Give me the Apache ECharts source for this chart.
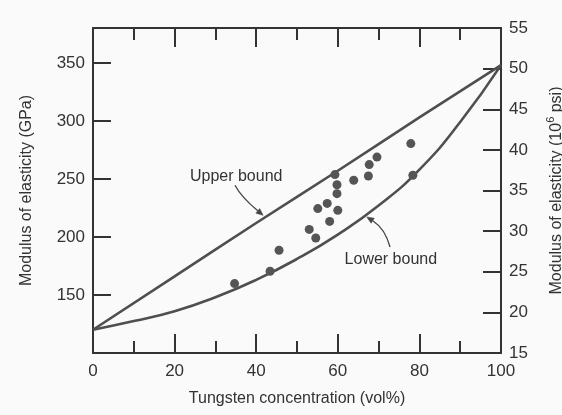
<!DOCTYPE html>
<html>
<head>
<meta charset="utf-8">
<script src="https://cdn.jsdelivr.net/npm/echarts@6/dist/echarts.min.js"></script>
<style>
html,body{margin:0;padding:0;background:#fafafa;}
#main{width:562px;height:415px;}
</style>
</head>
<body>
<div id="main"></div>
<script>
// Volume fraction of tungsten (vol%) and modulus (GPa)
var upperX = [0, 20, 40, 60, 80, 100];
var upperY = [120, 166, 212, 257, 303, 348];
var lowerX = [0, 10, 20, 30, 40, 50, 60, 70, 80, 90, 100];
var lowerY = [120, 127.5, 136, 148, 163, 181, 202, 227, 258, 299, 348];
var dotX = [34.7, 43.4, 45.6, 53.0, 54.6, 55.1, 57.4, 58.0, 59.3, 59.8, 59.8, 60.0, 63.9, 67.5, 67.7, 69.6, 77.9, 78.4];
var dotY = [159.8, 170.4, 188.5, 206.5, 199.1, 224.4, 228.9, 213.4, 253.7, 245.0, 237.3, 222.9, 248.8, 252.5, 262.3, 268.8, 280.4, 253.1];
var xTicks = [0, 20, 40, 60, 80, 100];
var gpaTicks = [150, 200, 250, 300, 350];
var psiTicks = [15, 20, 25, 30, 35, 40, 45, 50, 55];

// Annotations anchored in data coordinates [vol%, GPa]
var annoLabels = ['Upper bound', 'Lower bound'];
var annoLabelAt = [[35.1, 252.2], [73.0, 180.3]];
var annoArrows = [
  [[34.8, 244.5], [36.3, 234.5], [41.7, 218.6]],
  [[72.8, 191.3], [71.6, 207.2], [67.1, 217.2]]
];

function pairs(xs, ys) { return xs.map(function (x, i) { return [x, ys[i]]; }); }

var FONT = "'Liberation Sans', Arial, Helvetica, sans-serif";
var TXT = '#333';
var LINE = '#333';
var CURVE = '#4f4f4f';

var chart = echarts.init(document.getElementById('main'), null, {renderer: 'canvas'});

function renderAnno(params, api) {
  var i = params.dataIndex;
  var lp = api.coord(annoLabelAt[i]);
  var pts = annoArrows[i];
  var a = api.coord(pts[0]), c = api.coord(pts[1]), b = api.coord(pts[2]);
  var dx = b[0] - c[0], dy = b[1] - c[1];
  var len = Math.sqrt(dx * dx + dy * dy);
  dx /= len; dy /= len;
  var hl = 7, hw = 3;
  var bx = b[0] - dx * hl, by = b[1] - dy * hl;
  var nx = -dy, ny = dx;
  return {
    type: 'group',
    children: [{
      type: 'text', x: lp[0], y: lp[1],
      style: {text: annoLabels[i], fill: TXT, fontSize: 16, fontFamily: FONT, align: 'center', verticalAlign: 'middle'}
    }, {
      type: 'bezierCurve',
      shape: {x1: a[0], y1: a[1], x2: bx, y2: by, cpx1: c[0], cpy1: c[1]},
      style: {stroke: '#444', lineWidth: 1.3, fill: null}
    }, {
      type: 'polygon',
      shape: {points: [[bx + nx * hw, by + ny * hw], [b[0], b[1]], [bx - nx * hw, by - ny * hw]]},
      style: {fill: '#444', stroke: '#444', lineWidth: 0.5}
    }]
  };
}

var option = {
  backgroundColor: '#fafafa',
  animation: false,
  grid: {left: 93, right: 61, top: 28, bottom: 62, containLabel: false, outerBoundsMode: 'none'},
  xAxis: [{
    type: 'value', position: 'bottom', min: 0, max: 100, interval: 20,
    axisLine: {show: true, onZero: false, lineStyle: {color: LINE, width: 2}},
    axisTick: {show: true, inside: true, length: 19, lineStyle: {color: LINE, width: 2}},
    minorTick: {show: true, splitNumber: 2, length: 12, lineStyle: {color: LINE, width: 2}},
    splitLine: {show: false},
    axisLabel: {margin: 10, color: TXT, fontSize: 17, fontFamily: FONT,
      formatter: function (v) { return xTicks.indexOf(v) >= 0 ? String(v) : ''; }},
    name: 'Tungsten concentration (vol%)', nameLocation: 'middle', nameGap: 38,
    nameTextStyle: {color: TXT, fontSize: 16, fontFamily: FONT}
  }, {
    type: 'value', position: 'top', min: 0, max: 100, interval: 20,
    axisLine: {show: true, onZero: false, lineStyle: {color: LINE, width: 2}},
    axisTick: {show: true, inside: true, length: 19, lineStyle: {color: LINE, width: 2}},
    minorTick: {show: true, splitNumber: 2, length: 12, lineStyle: {color: LINE, width: 2}},
    splitLine: {show: false},
    axisLabel: {show: true, color: 'rgba(0,0,0,0)', fontSize: 10}
  }],
  yAxis: [{
    type: 'value', position: 'left', min: 100, max: 380,
    axisLine: {show: true, onZero: false, lineStyle: {color: LINE, width: 2}},
    axisTick: {show: true, inside: true, length: 18, customValues: gpaTicks, lineStyle: {color: LINE, width: 2}},
    minorTick: {show: false},
    splitLine: {show: false},
    axisLabel: {margin: 8, color: TXT, fontSize: 17, fontFamily: FONT, customValues: gpaTicks},
    name: 'Modulus of elasticity (GPa)', nameLocation: 'middle', nameGap: 58, nameRotate: 90,
    nameTextStyle: {color: TXT, fontSize: 16, fontFamily: FONT}
  }, {
    type: 'value', position: 'right', min: 15, max: 55, interval: 5,
    axisLine: {show: true, onZero: false, lineStyle: {color: LINE, width: 2}},
    axisTick: {show: true, inside: true, length: 18, lineStyle: {color: LINE, width: 2}},
    minorTick: {show: false},
    splitLine: {show: false},
    axisLabel: {margin: 8, color: TXT, fontSize: 17, fontFamily: FONT, showMinLabel: true, showMaxLabel: true,
      formatter: function (v) { return psiTicks.indexOf(v) >= 0 ? String(v) : ''; }},
    name: '{a|Modulus of elasticity (10}{s|6}{a| psi)}', nameLocation: 'middle', nameGap: 44, nameRotate: 90,
    nameTextStyle: {color: TXT, fontSize: 16, fontFamily: FONT,
      rich: {
        a: {color: TXT, fontSize: 16, fontFamily: FONT, verticalAlign: 'bottom', lineHeight: 20},
        s: {color: TXT, fontSize: 11, fontFamily: FONT, verticalAlign: 'top', lineHeight: 20}
      }}
  }],
  series: [{
    name: 'Upper bound', type: 'line', xAxisIndex: 0, yAxisIndex: 0,
    data: pairs(upperX, upperY), smooth: true, showSymbol: false, symbol: 'none',
    lineStyle: {color: CURVE, width: 2.6}, z: 3
  }, {
    name: 'Lower bound', type: 'line', xAxisIndex: 0, yAxisIndex: 0,
    data: pairs(lowerX, lowerY), smooth: true, showSymbol: false, symbol: 'none',
    lineStyle: {color: CURVE, width: 2.6}, z: 3
  }, {
    name: 'Data', type: 'scatter', xAxisIndex: 0, yAxisIndex: 0,
    data: pairs(dotX, dotY), symbol: 'circle', symbolSize: 9,
    itemStyle: {color: '#555', opacity: 1}, z: 4
  }, {
    name: 'Annotations', type: 'custom', xAxisIndex: 0, yAxisIndex: 0,
    data: annoLabelAt, renderItem: renderAnno, silent: true, clip: false, z: 5
  }]
};
chart.setOption(option);
</script>
</body>
</html>
